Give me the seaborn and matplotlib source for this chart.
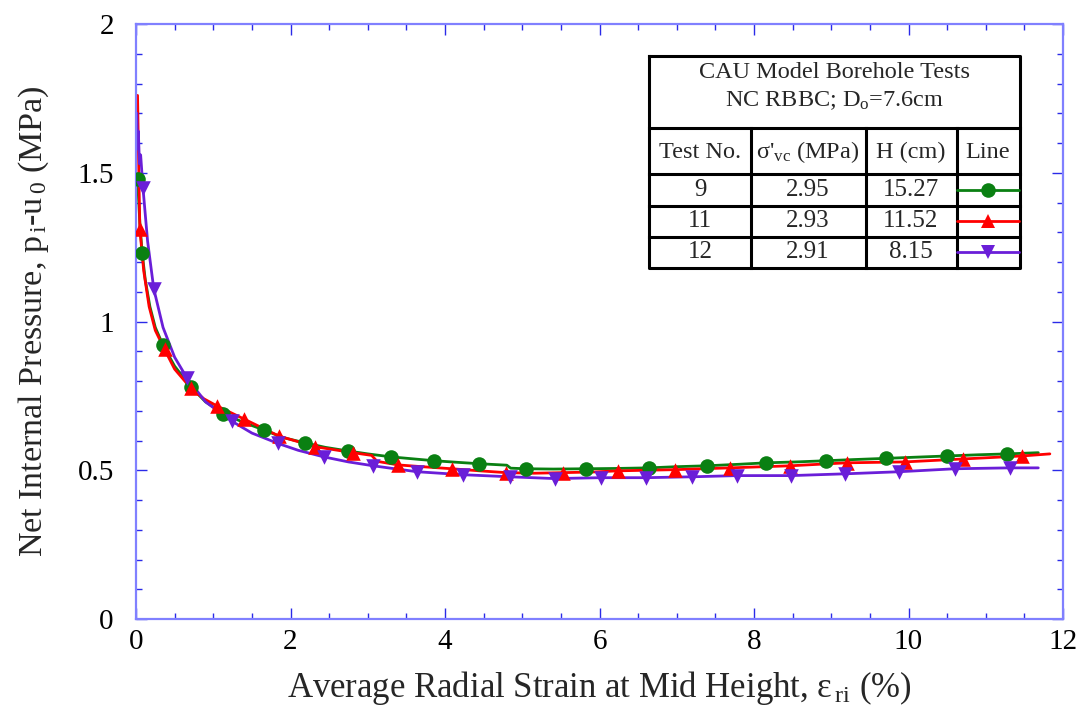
import matplotlib
matplotlib.use("Agg")
import matplotlib.pyplot as plt
import seaborn as sns
from matplotlib.ticker import MultipleLocator, FuncFormatter

# ---- Test 9 (H = 15.27 cm) ----
t9_strain = [0.00, 0.02, 0.05, 0.08, 0.12, 0.18, 0.25, 0.35, 0.50, 0.71, 0.90, 1.13,
             1.40, 1.66, 1.90, 2.19, 2.45, 2.74, 3.00, 3.30, 3.60, 3.86, 4.14, 4.44,
             4.80, 4.85, 5.05, 5.40, 5.83, 6.20, 6.64, 7.00, 7.39, 7.80, 8.16, 8.55,
             8.93, 9.30, 9.71, 10.10, 10.50, 10.90, 11.28, 11.68]
t9_press = [1.50, 1.48, 1.33, 1.23, 1.14, 1.05, 0.98, 0.92, 0.85, 0.78, 0.73, 0.69,
            0.66, 0.635, 0.61, 0.592, 0.577, 0.565, 0.555, 0.545, 0.538, 0.532, 0.527, 0.522,
            0.517, 0.507, 0.505, 0.504, 0.505, 0.506, 0.508, 0.512, 0.515, 0.520, 0.525, 0.528,
            0.532, 0.536, 0.540, 0.544, 0.548, 0.552, 0.555, 0.559]
t9_mark_strain = [0.02, 0.08, 0.35, 0.71, 1.13, 1.66, 2.19, 2.74, 3.30, 3.86, 4.44,
                  5.05, 5.83, 6.64, 7.39, 8.16, 8.93, 9.71, 10.50, 11.28]
t9_mark_press = [1.48, 1.23, 0.92, 0.78, 0.69, 0.635, 0.592, 0.565, 0.545, 0.532, 0.522,
                 0.505, 0.505, 0.508, 0.515, 0.525, 0.532, 0.540, 0.548, 0.555]

# ---- Test 11 (H = 11.52 cm) ----
t11_strain = [0.02, 0.03, 0.04, 0.05, 0.10, 0.17, 0.25, 0.37, 0.50, 0.71, 0.88, 1.05,
              1.40, 1.85, 2.32, 2.81, 3.05, 3.12, 3.39, 3.70, 4.09, 4.45, 4.79, 5.15,
              5.53, 5.90, 6.24, 6.60, 6.98, 7.69, 8.47, 9.20, 9.95, 10.71, 11.47, 11.83]
t11_press = [1.76, 1.60, 1.45, 1.31, 1.17, 1.05, 0.97, 0.906, 0.84, 0.776, 0.74, 0.716,
             0.672, 0.615, 0.579, 0.559, 0.550, 0.530, 0.518, 0.512, 0.505, 0.498, 0.492, 0.490,
             0.492, 0.494, 0.498, 0.500, 0.502, 0.508, 0.515, 0.525, 0.528, 0.538, 0.548, 0.555]
t11_mark_strain = [0.05, 0.37, 0.71, 1.05, 1.40, 1.85, 2.32, 2.81, 3.39, 4.09, 4.79,
                   5.53, 6.24, 6.98, 7.69, 8.47, 9.20, 9.95, 10.71, 11.47]
t11_mark_press = [1.31, 0.906, 0.776, 0.716, 0.672, 0.615, 0.579, 0.559, 0.518, 0.505, 0.492,
                  0.492, 0.498, 0.502, 0.508, 0.515, 0.525, 0.528, 0.538, 0.548]

# ---- Test 12 (H = 8.15 cm) ----
t12_strain = [0.01, 0.02, 0.03, 0.045, 0.06, 0.09, 0.15, 0.23, 0.35, 0.50, 0.66, 0.90,
              1.24, 1.50, 1.84, 2.10, 2.43, 2.75, 3.07, 3.35, 3.64, 4.23, 4.84, 5.42,
              6.02, 6.60, 7.20, 7.78, 8.48, 9.18, 9.88, 10.60, 11.31, 11.68]
t12_press = [1.70, 1.58, 1.64, 1.53, 1.56, 1.45, 1.27, 1.11, 0.98, 0.88, 0.81, 0.73,
             0.665, 0.625, 0.590, 0.567, 0.545, 0.528, 0.515, 0.505, 0.495, 0.485, 0.478, 0.472,
             0.475, 0.475, 0.478, 0.482, 0.482, 0.488, 0.495, 0.505, 0.508, 0.508]
t12_mark_strain = [0.09, 0.23, 0.66, 1.24, 1.84, 2.43, 3.07, 3.64, 4.23, 4.84, 5.42,
                   6.02, 6.60, 7.20, 7.78, 8.48, 9.18, 9.88, 10.60, 11.31]
t12_mark_press = [1.45, 1.11, 0.81, 0.665, 0.590, 0.545, 0.515, 0.495, 0.485, 0.478, 0.472,
                  0.475, 0.475, 0.478, 0.482, 0.482, 0.488, 0.495, 0.505, 0.508]

# ---- Legend table contents ----
table_title = ["CAU Model Borehole Tests", r"NC RBBC; D$_\mathregular{o}$=7.6cm"]
table_header = ["Test No.", r"σ'$_\mathregular{vc}$ (MPa)", "H (cm)", "Line"]
test_no = ["9", "11", "12"]
sigma_vc = ["2.95", "2.93", "2.91"]
height_cm = ["15.27", "11.52", "8.15"]

GREEN = "#0a8012"
RED = "#ff0000"
PURPLE = "#6a1ed8"
colors = [GREEN, RED, PURPLE]
markers = ["o", "^", "v"]

sns.set_style("ticks")
plt.rcParams["font.family"] = ["Liberation Serif", "DejaVu Serif"]
plt.rcParams["mathtext.fontset"] = "custom"
plt.rcParams["mathtext.rm"] = "Liberation Serif"
plt.rcParams["mathtext.it"] = "Liberation Serif:italic"

W, H = 1085, 717
fig = plt.figure(figsize=(W / 100, H / 100), dpi=100)
ax = fig.add_axes([136 / W, 1 - 619 / H, (1063 - 136) / W, (619 - 24) / H])

series = [
    (t9_strain, t9_press, t9_mark_strain, t9_mark_press),
    (t11_strain, t11_press, t11_mark_strain, t11_mark_press),
    (t12_strain, t12_press, t12_mark_strain, t12_mark_press),
]
for (xs, ys, mx, my), c, m in zip(series, colors, markers):
    sns.lineplot(x=xs, y=ys, ax=ax, color=c, lw=2.0, sort=False, estimator=None)
for (xs, ys, mx, my), c, m in zip(series, colors, markers):
    sns.scatterplot(x=mx, y=my, ax=ax, color=c, marker=m, s=110, linewidth=0, zorder=4)

ax.set_xlim(0, 12)
ax.set_ylim(0, 2)
ax.xaxis.set_major_locator(MultipleLocator(2))
ax.xaxis.set_minor_locator(MultipleLocator(0.5))
ax.yaxis.set_major_locator(MultipleLocator(0.5))
ax.yaxis.set_minor_locator(MultipleLocator(0.1))
ax.yaxis.set_major_formatter(FuncFormatter(lambda v, p: f"{v:g}"))
ax.xaxis.set_major_formatter(FuncFormatter(lambda v, p: f"{v:g}"))

tick_col = "#2a2ae8"
ax.tick_params(which="both", direction="in", top=True, right=True, color=tick_col,
               width=1.0, labelsize=21, labelcolor="black")
ax.tick_params(which="major", length=8)
ax.tick_params(which="minor", length=4.5)
ax.tick_params(axis="y", which="major", pad=16)
ax.tick_params(axis="x", which="major", pad=7)
for sp in ax.spines.values():
    sp.set_color("#8080ff")
    sp.set_linewidth(1.6)

ax.set_xlabel(r"Average Radial Strain at Mid Height, ε$_{\mathregular{\,ri}}$ (%)", fontsize=25, labelpad=10)
ax.set_ylabel(r"Net Internal Pressure, p$_{\mathregular{\,i}}$-u$_{\mathregular{\,0}}$ (MPa)", fontsize=24.5, labelpad=19)

# ---- Legend table ----
x0, x1, y0, y1 = 649, 1020, 56, 268
tb = fig.add_axes([x0 / W, 1 - y1 / H, (x1 - x0) / W, (y1 - y0) / H])
tb.set_xlim(x0, x1)
tb.set_ylim(y1, y0)
tb.set_axis_off()
tb.add_patch(plt.Rectangle((x0, y0), x1 - x0, y1 - y0, facecolor="white", edgecolor="none", zorder=0))

lw_t = 2.2
kw = dict(color="black", lw=lw_t, clip_on=False, solid_capstyle="projecting")
tb.plot([x0, x1, x1, x0, x0], [y0, y0, y1, y1, y0], **kw)
for yy in (128, 174, 206, 237):
    tb.plot([x0, x1], [yy, yy], **kw)
for xx in (751, 866, 957):
    tb.plot([xx, xx], [128, y1], **kw)

fs_title = 17.5
fs_cell = 18
cx = (x0 + x1) / 2
tb.text(cx, 73, table_title[0], ha="center", va="center", fontsize=fs_title)
tb.text(cx, 101, table_title[1], ha="center", va="center", fontsize=fs_title)
col_c = [700, 808, 911, 988]
for c_x, t in zip(col_c, table_header):
    tb.text(c_x, 152, t, ha="center", va="center", fontsize=fs_title)
row_c = [190, 221, 252]
for i, rc in enumerate(row_c):
    tb.text(col_c[0], rc, test_no[i], ha="center", va="center", fontsize=fs_cell)
    tb.text(col_c[1], rc, sigma_vc[i], ha="center", va="center", fontsize=fs_cell)
    tb.text(col_c[2], rc, height_cm[i], ha="center", va="center", fontsize=fs_cell)
    tb.plot([957, 1019], [rc, rc], color=colors[i], lw=2.0, clip_on=False)
    tb.plot([988], [rc], marker=markers[i], color=colors[i], ms=10.5, mew=0, ls="none")

fig.savefig("out.png", dpi=100)
